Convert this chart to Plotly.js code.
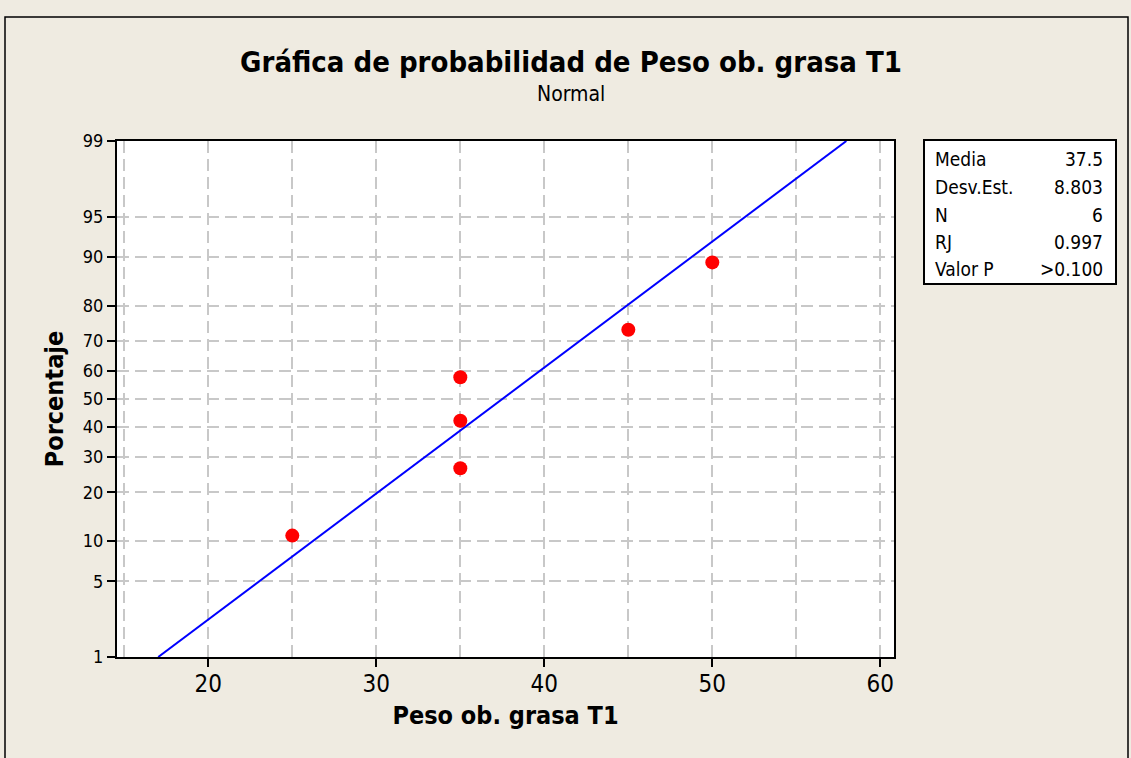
<!DOCTYPE html>
<html>
<head>
<meta charset="utf-8">
<script src="https://cdn.plot.ly/plotly-3.0.1.min.js"></script>
<style>html,body{margin:0;padding:0;background:#EFEBE1;}#chart{width:1131px;height:758px;}</style>
</head>
<body>
<div id="chart"></div>
<script>
// ---- data ----
const pesoValues = [25, 35, 35, 35, 45, 50];
const pesoPercent = [10.9, 26.6, 42.2, 57.8, 73.4, 89.1];
const fitX = [17.02, 57.98];
const fitPercent = [1, 99];
const yTickPercent = [1, 5, 10, 20, 30, 40, 50, 60, 70, 80, 90, 95, 99];
const statLabels = ["Media", "Desv.Est.", "N", "RJ", "Valor P"];
const statValues = ["37.5", "8.803", "6", "0.997", ">0.100"];

// inverse standard normal CDF (Acklam) for probability-scale axis
function probit(p) {
  const a = [-3.969683028665376e+01, 2.209460984245205e+02, -2.759285104469687e+02, 1.383577518672690e+02, -3.066479806614716e+01, 2.506628277459239e+00];
  const b = [-5.447609879822406e+01, 1.615858368580409e+02, -1.556989798598866e+02, 6.680131188771972e+01, -1.328068155288572e+01];
  const c = [-7.784894002430293e-03, -3.223964580411365e-01, -2.400758277161838e+00, -2.549732539343734e+00, 4.374664141464968e+00, 2.938163982698783e+00];
  const d = [7.784695709041462e-03, 3.224671290700398e-01, 2.445134137142996e+00, 3.754408661907416e+00];
  const pl = 0.02425, ph = 1 - pl;
  let q, r;
  if (p < pl) { q = Math.sqrt(-2 * Math.log(p)); return (((((c[0]*q+c[1])*q+c[2])*q+c[3])*q+c[4])*q+c[5]) / ((((d[0]*q+d[1])*q+d[2])*q+d[3])*q+1); }
  if (p > ph) { q = Math.sqrt(-2 * Math.log(1 - p)); return -(((((c[0]*q+c[1])*q+c[2])*q+c[3])*q+c[4])*q+c[5]) / ((((d[0]*q+d[1])*q+d[2])*q+d[3])*q+1); }
  q = p - 0.5; r = q * q;
  return (((((a[0]*r+a[1])*r+a[2])*r+a[3])*r+a[4])*r+a[5])*q / (((((b[0]*r+b[1])*r+b[2])*r+b[3])*r+b[4])*r+1);
}
const z = v => probit(v / 100);

const W = 1131, H = 758;
const L = 117, R = 894, T = 141, B = 657;
const px = x => (x - L) / (R - L);
const py = y => (B - y) / (B - T);

const FONT = "'DejaVu Sans Condensed', 'DejaVu Sans', sans-serif";
const gridCol = "#C8C8C8";
const gridDash = "12px,6px";

const traces = [
  { x: fitX, y: fitPercent.map(z), mode: "lines", line: { color: "#0000FF", width: 2 }, hoverinfo: "skip" },
  { x: pesoValues, y: pesoPercent.map(z), mode: "markers", marker: { color: "#FF0000", size: 14 } }
];

const annotations = [
  { text: "Normal", xref: "paper", yref: "paper", x: px(571), y: py(94), xanchor: "center", yanchor: "middle", showarrow: false, font: { family: FONT, size: 21, color: "#000" } }
];
const rowY = [159, 187, 215, 242, 269];
statLabels.forEach((s, i) => {
  annotations.push({ text: s, xref: "paper", yref: "paper", x: px(933), y: py(rowY[i]), xanchor: "left", yanchor: "middle", showarrow: false, font: { family: FONT, size: 19, color: "#000" } });
  annotations.push({ text: statValues[i], xref: "paper", yref: "paper", x: px(1105), y: py(rowY[i]), xanchor: "right", yanchor: "middle", showarrow: false, font: { family: FONT, size: 19, color: "#000" } });
});

const shapes = [
  { type: "rect", xref: "paper", yref: "paper", x0: px(5), x1: px(1128), y0: py(790), y1: py(17), line: { color: "#000", width: 1.5 }, layer: "below" },
  { type: "rect", xref: "paper", yref: "paper", x0: px(924), x1: px(1116), y0: py(284), y1: py(140), fillcolor: "#FFFFFF", line: { color: "#000", width: 2 } }
];

const layout = {
  width: W, height: H,
  paper_bgcolor: "#EFEBE1", plot_bgcolor: "#FFFFFF",
  margin: { l: L, r: W - R, t: T, b: H - B, pad: 0 },
  showlegend: false,
  title: { text: "<b>Gráfica de probabilidad de Peso ob. grasa T1</b>", x: 571 / W, xanchor: "center", y: 1 - 62 / H, yanchor: "middle", yref: "container", xref: "container", font: { family: FONT, size: 29, color: "#000" } },
  xaxis: {
    range: [14.565, 60.815], tick0: 0, dtick: 10, ticks: "outside", ticklen: 8, tickwidth: 2, tickcolor: "#000",
    ticklabelstandoff: -4,
    showline: true, linecolor: "#000", linewidth: 2, mirror: true, zeroline: false,
    showgrid: true, gridcolor: gridCol, griddash: gridDash, gridwidth: 2,
    minor: { dtick: 5, tick0: 0, showgrid: true, gridcolor: gridCol, griddash: gridDash, gridwidth: 2, ticks: "" },
    tickfont: { family: FONT, size: 24, color: "#000" },
    title: { text: "<b>Peso ob. grasa T1</b>", font: { family: FONT, size: 25, color: "#000" }, standoff: 10 }
  },
  yaxis: {
    range: [z(1), z(99)], tickvals: yTickPercent.map(z), ticktext: yTickPercent.map(String),
    ticks: "outside", ticklen: 8, tickwidth: 2, tickcolor: "#000",
    showline: true, linecolor: "#000", linewidth: 2, mirror: true, zeroline: false,
    showgrid: true, gridcolor: gridCol, griddash: gridDash, gridwidth: 2,
    tickfont: { family: FONT, size: 18, color: "#000" },
    title: { text: "<b>Porcentaje</b>", font: { family: FONT, size: 25, color: "#000" }, standoff: 12 }
  },
  annotations: annotations,
  shapes: shapes
};

Plotly.newPlot("chart", traces, layout, { displayModeBar: false, staticPlot: true });
</script>
</body>
</html>
